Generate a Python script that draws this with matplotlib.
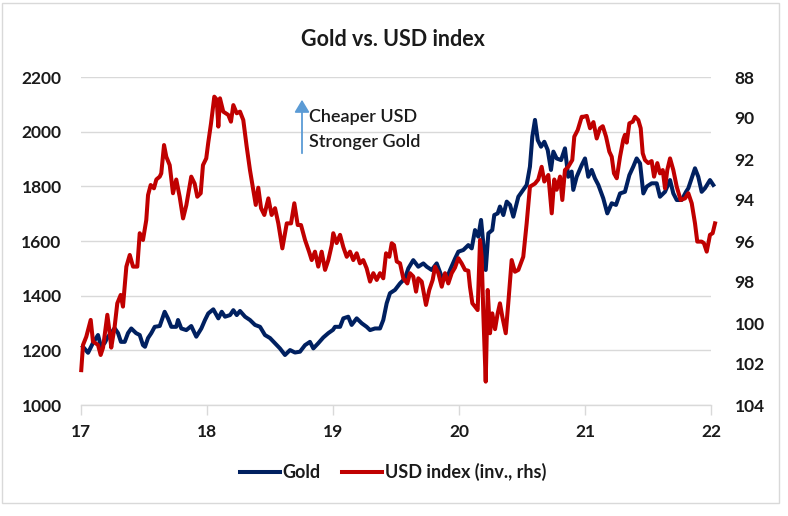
import matplotlib
matplotlib.use("Agg")
import matplotlib.pyplot as plt
from matplotlib.patches import Rectangle, FancyArrowPatch

plt.rcParams['font.family'] = ['Lato', 'DejaVu Sans']

# ---- data (decimal years, yy format) ----
gold_x = [17.016, 17.056, 17.095, 17.135, 17.159, 17.188, 17.214, 17.238, 17.267, 17.294,
          17.317, 17.347, 17.373, 17.399, 17.437, 17.466, 17.492, 17.508, 17.532, 17.558,
          17.585, 17.625, 17.664, 17.690, 17.717, 17.756, 17.770, 17.796, 17.836, 17.875,
          17.915, 17.955, 17.984, 18.010, 18.050, 18.090, 18.117, 18.143, 18.183, 18.209,
          18.236, 18.262, 18.302, 18.341, 18.381, 18.421, 18.460, 18.500, 18.540, 18.579,
          18.619, 18.659, 18.698, 18.738, 18.778, 18.817, 18.844, 18.883, 18.923, 18.963,
          19.000, 19.016, 19.056, 19.082, 19.121, 19.148, 19.188, 19.228, 19.267, 19.294,
          19.333, 19.373, 19.399, 19.426, 19.452, 19.492, 19.532, 19.571, 19.598, 19.637,
          19.677, 19.717, 19.744, 19.783, 19.823, 19.863, 19.902, 19.929, 19.968, 19.995,
          20.034, 20.074, 20.101, 20.127, 20.153, 20.175, 20.193, 20.212, 20.233, 20.264,
          20.280, 20.307, 20.325, 20.352, 20.379, 20.405, 20.431, 20.471, 20.510, 20.537,
          20.563, 20.582, 20.603, 20.625, 20.651, 20.677, 20.704, 20.730, 20.749, 20.775,
          20.810, 20.841, 20.867, 20.894, 20.907, 20.934, 20.974, 21.000, 21.026, 21.053,
          21.079, 21.106, 21.145, 21.177, 21.212, 21.246, 21.278, 21.317, 21.352, 21.383,
          21.410, 21.437, 21.463, 21.490, 21.529, 21.569, 21.595, 21.635, 21.675, 21.701,
          21.728, 21.767, 21.802, 21.820, 21.873, 21.899, 21.926, 21.952, 21.992, 22.018]
gold_y = [1213, 1191, 1227, 1256, 1213, 1227, 1250, 1263, 1281, 1263,
          1231, 1231, 1263, 1280, 1263, 1256, 1219, 1213, 1245, 1263,
          1286, 1289, 1341, 1317, 1286, 1286, 1311, 1280, 1274, 1289,
          1250, 1280, 1311, 1335, 1350, 1317, 1341, 1323, 1329, 1347,
          1329, 1344, 1323, 1311, 1293, 1286, 1256, 1245, 1226, 1207,
          1183, 1201, 1192, 1195, 1219, 1231, 1207, 1226, 1247, 1263,
          1275, 1286, 1286, 1317, 1323, 1293, 1317, 1299, 1286, 1274,
          1280, 1280, 1311, 1372, 1409, 1421, 1445, 1463, 1500, 1530,
          1506, 1518, 1506, 1494, 1518, 1469, 1463, 1494, 1535, 1561,
          1567, 1585, 1573, 1640, 1616, 1677, 1591, 1494, 1628, 1640,
          1695, 1701, 1726, 1695, 1744, 1732, 1689, 1762, 1787, 1805,
          1872, 1982, 2043, 1969, 1945, 1963, 1933, 1860, 1927, 1902,
          1896, 1939, 1835, 1854, 1787, 1835, 1878, 1902, 1835, 1860,
          1829, 1805, 1756, 1701, 1738, 1732, 1774, 1780, 1841, 1872,
          1902, 1884, 1774, 1799, 1811, 1811, 1762, 1780, 1823, 1774,
          1750, 1750, 1780, 1793, 1866, 1835, 1780, 1793, 1823, 1805]

usd_x = [17.002, 17.016, 17.042, 17.077, 17.095, 17.135, 17.156, 17.175, 17.209, 17.228,
         17.240, 17.267, 17.288, 17.315, 17.333, 17.360, 17.387, 17.413, 17.447, 17.466,
         17.492, 17.518, 17.532, 17.553, 17.579, 17.598, 17.625, 17.637, 17.659, 17.677,
         17.704, 17.730, 17.756, 17.783, 17.810, 17.836, 17.875, 17.902, 17.923, 17.950,
         17.968, 17.994, 18.010, 18.032, 18.058, 18.077, 18.090, 18.103, 18.129, 18.169,
         18.190, 18.209, 18.236, 18.262, 18.288, 18.315, 18.341, 18.367, 18.387, 18.407,
         18.429, 18.455, 18.487, 18.513, 18.540, 18.566, 18.598, 18.633, 18.667, 18.693,
         18.720, 18.746, 18.778, 18.810, 18.831, 18.857, 18.883, 18.910, 18.937, 18.963,
         18.990, 19.002, 19.029, 19.056, 19.082, 19.109, 19.135, 19.161, 19.188, 19.214,
         19.240, 19.267, 19.294, 19.320, 19.347, 19.373, 19.399, 19.421, 19.447, 19.466,
         19.484, 19.506, 19.532, 19.558, 19.590, 19.611, 19.637, 19.659, 19.677, 19.704,
         19.738, 19.764, 19.791, 19.810, 19.836, 19.863, 19.889, 19.915, 19.942, 19.968,
         19.995, 20.021, 20.048, 20.074, 20.087, 20.106, 20.127, 20.148, 20.167, 20.180,
         20.193, 20.212, 20.228, 20.246, 20.264, 20.286, 20.307, 20.325, 20.344, 20.371,
         20.391, 20.418, 20.444, 20.471, 20.510, 20.537, 20.563, 20.603, 20.629, 20.656,
         20.677, 20.709, 20.736, 20.756, 20.775, 20.802, 20.820, 20.841, 20.867, 20.899,
         20.915, 20.942, 20.974, 20.987, 21.014, 21.040, 21.067, 21.093, 21.119, 21.141,
         21.167, 21.193, 21.212, 21.230, 21.252, 21.278, 21.304, 21.317, 21.331, 21.352,
         21.379, 21.397, 21.423, 21.442, 21.458, 21.476, 21.502, 21.529, 21.548, 21.574,
         21.595, 21.617, 21.635, 21.653, 21.675, 21.701, 21.728, 21.759, 21.794, 21.820,
         21.847, 21.873, 21.891, 21.926, 21.944, 21.966, 21.992, 22.013, 22.032]
usd_y = [102.3, 101.07, 100.67, 99.85, 100.9, 101.07, 101.56, 101.2, 99.6, 100.5,
         101.2, 100.18, 99.04, 98.63, 99.2, 97.25, 96.68, 97.25, 97.25, 95.62,
         95.95, 94.98, 93.76, 93.27, 93.43, 93.0, 92.86, 92.7, 91.32, 91.89,
         92.3, 93.67, 93.0, 93.84, 94.9, 94.25, 92.86, 93.2, 93.84, 93.67,
         92.3, 91.97, 91.2, 90.26, 88.96, 89.1, 90.42, 89.04, 89.69, 89.85,
         90.18, 89.37, 89.77, 89.69, 90.1, 91.4, 92.54, 93.51, 94.24, 93.4,
         94.4, 94.73, 93.92, 94.73, 94.4, 95.14, 96.36, 95.14, 95.14, 94.16,
         95.22, 95.22, 95.95, 96.52, 96.93, 96.52, 97.25, 96.52, 97.41, 96.93,
         96.2, 95.62, 96.1, 95.7, 96.3, 96.77, 96.52, 96.93, 96.6, 97.09,
         96.93, 97.33, 97.98, 97.57, 97.9, 97.57, 97.82, 96.6, 96.77, 96.11,
         96.2, 97.0, 97.09, 97.82, 98.07, 97.57, 97.73, 98.47, 97.82, 97.98,
         99.12, 98.39, 97.9, 97.25, 97.57, 98.23, 97.57, 98.07, 97.57, 97.3,
         96.84, 97.09, 97.41, 97.45, 98.23, 99.04, 99.2, 99.37, 95.95, 96.77,
         99.53, 102.86, 98.39, 100.5, 99.53, 100.3, 99.53, 99.04, 99.7, 100.5,
         99.04, 96.93, 97.5, 97.41, 96.77, 95.14, 93.35, 93.2, 93.0, 92.38,
         93.1, 92.78, 94.65, 93.0, 93.5, 92.86, 94.0, 92.54, 92.38, 92.05,
         90.91, 90.59, 89.94, 89.94, 89.9, 90.5, 90.2, 91.0, 90.5, 90.4,
         90.91, 91.64, 91.89, 92.7, 92.94, 91.89, 91.05, 90.82, 91.2, 90.26,
         90.18, 89.94, 90.1, 90.5, 91.72, 92.05, 92.2, 92.1, 92.86, 92.2,
         92.7, 92.54, 93.43, 92.54, 91.97, 92.54, 93.35, 94.0, 93.92, 93.67,
         94.16, 95.14, 96.03, 96.03, 96.11, 96.52, 95.7, 95.62, 95.14]

x_ticks = [17, 18, 19, 20, 21, 22]
left_ticks = [1000, 1200, 1400, 1600, 1800, 2000, 2200]
right_ticks = [88, 90, 92, 94, 96, 98, 100, 102, 104]

title = "Gold vs. USD index"
gold_label = "Gold"
usd_label = "USD index (inv., rhs)"

GOLD_C = "#002060"
USD_C = "#C00000"
TXT_C = "#1a1a1a"

fig = plt.figure(figsize=(7.88, 5.16), dpi=100)
fig.patches.append(Rectangle((0.003, 0.025), 0.985, 0.97, transform=fig.transFigure,
                             fill=False, edgecolor="#d9d9d9", linewidth=1.0))

ax = fig.add_axes([81/788, 1 - 405/516, 630/788, 328/516])
ax2 = ax.twinx()

ax.set_xlim(17, 22)
ax.set_ylim(1000, 2200)
ax2.set_ylim(104, 88)

ax.set_yticks(left_ticks)
ax2.set_yticks(right_ticks)
ax.set_xticks(x_ticks)
ax.set_xticklabels([str(t) for t in x_ticks])

ax.grid(axis="y", color="#d9d9d9", linewidth=1.0)
ax.set_axisbelow(True)
for a in (ax, ax2):
    for s in ("top", "left", "right", "bottom"):
        a.spines[s].set_visible(False)
ax.spines["bottom"].set_visible(True)
ax.spines["bottom"].set_color("#d9d9d9")
ax.spines["bottom"].set_linewidth(1.0)

TICK_FS = 12.5
ax.tick_params(axis="x", direction="out", length=7, color="#d9d9d9", width=1.0,
               pad=7, labelsize=TICK_FS, labelcolor=TXT_C)
ax.tick_params(axis="y", length=0, pad=14, labelsize=TICK_FS, labelcolor=TXT_C)
ax2.tick_params(axis="y", length=0, pad=17, labelsize=TICK_FS, labelcolor=TXT_C)
for lab in ax.get_xticklabels() + ax.get_yticklabels() + ax2.get_yticklabels():
    lab.set_fontweight("bold")

l1, = ax.plot(gold_x, gold_y, color=GOLD_C, linewidth=2.9, clip_on=False,
              solid_joinstyle="round", zorder=3)
l2, = ax2.plot(usd_x, usd_y, color=USD_C, linewidth=2.9, clip_on=False,
               solid_joinstyle="round", zorder=3)

fig.text(393/788, 1 - 39/516, title, ha="center", va="center",
         fontsize=15.5, fontweight="bold", color=TXT_C)

arrow = FancyArrowPatch((302/788, 1 - 156/516), (302/788, 1 - 97/516),
                        transform=fig.transFigure, arrowstyle="-|>,head_length=5,head_width=3",
                        color="#5B9BD5", linewidth=1.3, mutation_scale=1.5)
fig.patches.append(arrow)
fig.text(309/788, 1 - 117/516, "Cheaper USD", ha="left", va="center",
         fontsize=13, fontweight="semibold", color=TXT_C)
fig.text(309/788, 1 - 142/516, "Stronger Gold", ha="left", va="center",
         fontsize=13, fontweight="semibold", color=TXT_C)

leg = fig.legend([l1, l2], [gold_label, usd_label], loc="center",
                 bbox_to_anchor=(393/788, 1 - 472/516), ncol=2, frameon=False,
                 handlelength=2.2, handletextpad=0.15, columnspacing=1.2,
                 prop={"size": 13, "weight": "bold"})
for t in leg.get_texts():
    t.set_color(TXT_C)

fig.savefig("out.png", dpi=100)
